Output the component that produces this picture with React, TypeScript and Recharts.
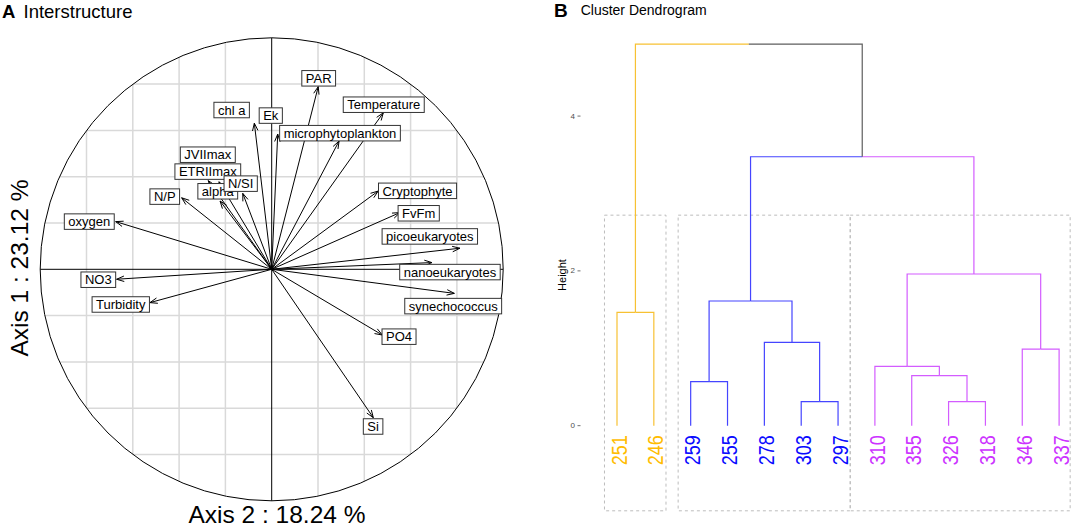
import React from 'react';
import { ComposedChart, XAxis, YAxis, ReferenceLine, ReferenceArea, Scatter, Line } from 'recharts';

const FONT = "'Liberation Sans', Arial, Helvetica, sans-serif";

// ---------- Panel A : correlation circle ----------
const varNames = ['PAR', 'Temperature', 'microphytoplankton', 'Ek', 'chl a', 'JVIImax', 'ETRIImax', 'alpha', 'N/SI', 'N/P', 'oxygen', 'NO3', 'Turbidity', 'Cryptophyte', 'FvFm', 'picoeukaryotes', 'nanoeukaryotes', 'synechococcus', 'PO4', 'Si'];
const arrowU = [0.201, 0.482, 0.291, 0.026, -0.075, -0.274, -0.228, -0.223, -0.125, -0.389, -0.674, -0.670, -0.526, 0.460, 0.554, 0.813, 0.692, 0.789, 0.478, 0.439];
const arrowV = [0.789, 0.676, 0.554, 0.584, 0.631, 0.383, 0.378, 0.295, 0.328, 0.309, 0.206, -0.043, -0.144, 0.338, 0.245, 0.091, 0.029, -0.104, -0.284, -0.641];
const labelU = [0.203, 0.484, 0.295, -0.004, -0.173, -0.276, -0.276, -0.233, -0.134, -0.462, -0.788, -0.749, -0.652, 0.630, 0.635, 0.683, 0.770, 0.784, 0.550, 0.438];
const labelV = [0.825, 0.711, 0.588, 0.664, 0.688, 0.495, 0.422, 0.337, 0.370, 0.314, 0.206, -0.045, -0.152, 0.339, 0.242, 0.142, -0.012, -0.159, -0.291, -0.679];
const gridTicks = [-0.8, -0.6, -0.4, -0.2, 0.2, 0.4, 0.6, 0.8];
const axis1Title = 'Axis 1 : 23.12 %';
const axis2Title = 'Axis 2 : 18.24 %';

// ---------- Panel B : dendrogram ----------
const leafLabels = ['251', '246', '259', '255', '278', '303', '297', '310', '355', '326', '318', '346', '337'];
const leafGroup = [0, 0, 1, 1, 1, 1, 1, 2, 2, 2, 2, 2, 2];
const mergeLeft = [-6, -10, -3, -9, -8, -12, -5, -1, 3, 5, 9, 8];
const mergeRight = [-7, -11, -4, 2, 4, -13, 1, -2, 7, 6, 10, 11];
const mergeHeight = [0.31, 0.31, 0.568, 0.646, 0.767, 0.99, 1.077, 1.465, 1.611, 1.96, 3.475, 4.93];
const boxLeft = [0.66, 2.66, 7.33];
const boxRight = [2.33, 7.33, 13.3];
const boxBottom = -1.1;
const boxTop = 2.72;
const heightTicks = [0, 2, 4];

const lineColors = ['#F7C133', '#4545FF', '#D35CFF'];
const labelColors = ['#FFBC00', '#0A0AFF', '#CC33FF'];
const mixedColor = '#5E5E5E';

let _ctx: CanvasRenderingContext2D | null = null;
function textWidth(s: string, size: number): number {
  if (typeof document !== 'undefined') {
    if (!_ctx) _ctx = document.createElement('canvas').getContext('2d');
    if (_ctx) {
      _ctx.font = `${size}px "Liberation Sans", Arial, sans-serif`;
      return _ctx.measureText(s).width;
    }
  }
  return s.length * size * 0.55;
}

const labelData = varNames.map((n, i) => ({ x: labelU[i], y: labelV[i], name: n }));

const LabelBox = (p: any) => {
  const { cx, cy, payload } = p;
  if (cx == null || cy == null) return <g />;
  const w = textWidth(payload.name, 13) + 8;
  const h = 15.5;
  return (
    <g>
      <rect x={cx - w / 2} y={cy - h / 2} width={w} height={h} fill="#fff" stroke="#333" strokeWidth={1} />
      <text x={cx} y={cy + 4.7} textAnchor="middle" fontSize={13} fontFamily={FONT} fill="#000">{payload.name}</text>
    </g>
  );
};

const ArrowShape = (p: any) => {
  const { x1, y1, x2, y2 } = p;
  const ang = Math.atan2(y2 - y1, x2 - x1);
  const L = 8;
  const A = (20 * Math.PI) / 180;
  const ax = x2 - L * Math.cos(ang - A);
  const ay = y2 - L * Math.sin(ang - A);
  const bx = x2 - L * Math.cos(ang + A);
  const by = y2 - L * Math.sin(ang + A);
  return (
    <g>
      <line x1={x1} y1={y1} x2={x2} y2={y2} stroke="#000" strokeWidth={1} />
      <path d={`M${ax},${ay}L${x2},${y2}L${bx},${by}`} fill="none" stroke="#000" strokeWidth={1} />
    </g>
  );
};

const AxisWithCircle = (p: any) => {
  const { x1, y1, x2, y2 } = p;
  const r = Math.abs(x2 - x1) / 2;
  return (
    <g>
      <circle cx={(x1 + x2) / 2} cy={(y1 + y2) / 2} r={r} fill="none" stroke="#000" strokeWidth={1} />
      <line x1={x1} y1={y1} x2={x2} y2={y2} stroke="#000" strokeWidth={1} />
    </g>
  );
};

// dendrogram layout from merges
type NodeInfo = { x: number; h: number; g: number };
function nodeInfo(): { leaves: NodeInfo[]; merges: NodeInfo[] } {
  const leaves = leafLabels.map((_, i) => ({ x: i + 1, h: 0, g: leafGroup[i] }));
  const merges: NodeInfo[] = [];
  const get = (c: number) => (c < 0 ? leaves[-c - 1] : merges[c - 1]);
  for (let k = 0; k < mergeHeight.length; k++) {
    const l = get(mergeLeft[k]);
    const r = get(mergeRight[k]);
    merges.push({ x: (l.x + r.x) / 2, h: mergeHeight[k], g: l.g === r.g ? l.g : -1 });
  }
  return { leaves, merges };
}
const { leaves: leafNodes, merges: mergeNodes } = nodeInfo();
const links: { pts: { x: number; y: number }[]; color: string }[] = [];
mergeNodes.forEach((m, k) => {
  [mergeLeft[k], mergeRight[k]].forEach((c) => {
    const n = c < 0 ? leafNodes[-c - 1] : mergeNodes[c - 1];
    links.push({
      pts: [{ x: n.x, y: n.h }, { x: n.x, y: m.h }, { x: m.x, y: m.h }],
      color: n.g >= 0 ? lineColors[n.g] : mixedColor,
    });
  });
});
const leafData = leafLabels.map((l, i) => ({ x: i + 1, y: 0, label: l, g: leafGroup[i] }));

const LeafLabel = (p: any) => {
  const { cx, cy, payload } = p;
  if (cx == null || cy == null) return <g />;
  const tx = cx + 2;
  const ty = cy + 9.5;
  return (
    <text
      transform={`translate(${tx},${ty}) rotate(-90) scale(0.82,1)`}
      textAnchor="end"
      dominantBaseline="central"
      fontSize={22}
      fontFamily={FONT}
      fill={labelColors[payload.g]}
    >
      {payload.label}
    </text>
  );
};

const HeightTick = (p: any) => {
  const { y, payload } = p;
  return (
    <g>
      <text x={32.7} y={y} textAnchor="middle" dominantBaseline="central" fontSize={8} fontFamily={FONT} fill="#4D4D4D">{payload.value}</text>
      <line x1={37.5} x2={40.5} y1={y} y2={y} stroke="#4D4D4D" strokeWidth={0.8} />
    </g>
  );
};

export default function App() {
  return (
    <div style={{ position: 'absolute', left: 0, top: 0, width: 1072, height: 527, overflow: 'hidden', background: '#fff', fontFamily: FONT }}>
      <div style={{ position: 'absolute', left: 0, top: 0 }}>
        <ComposedChart width={540} height={527} margin={{ top: 37.8, left: 40.2, right: 36.8, bottom: 26.2 }}>
          <XAxis type="number" dataKey="x" domain={[-1, 1]} hide />
          <YAxis type="number" dataKey="y" domain={[-1, 1]} hide />
          {gridTicks.map((t) => (
            <ReferenceLine key={'gv' + t} ifOverflow="visible" stroke="#D9D9D9" strokeWidth={1.5}
              segment={[{ x: t, y: -Math.sqrt(1 - t * t) }, { x: t, y: Math.sqrt(1 - t * t) }]} />
          ))}
          {gridTicks.map((t) => (
            <ReferenceLine key={'gh' + t} ifOverflow="visible" stroke="#D9D9D9" strokeWidth={1.5}
              segment={[{ x: -Math.sqrt(1 - t * t), y: t }, { x: Math.sqrt(1 - t * t), y: t }]} />
          ))}
          <ReferenceLine ifOverflow="visible" segment={[{ x: -1, y: 0 }, { x: 1, y: 0 }]} shape={AxisWithCircle} />
          <ReferenceLine ifOverflow="visible" stroke="#000" strokeWidth={1} segment={[{ x: 0, y: -1 }, { x: 0, y: 1 }]} />
          {varNames.map((n, i) => (
            <ReferenceLine key={'a' + n} ifOverflow="visible" segment={[{ x: 0, y: 0 }, { x: arrowU[i], y: arrowV[i] }]} shape={ArrowShape} />
          ))}
          <Scatter data={labelData} shape={LabelBox} isAnimationActive={false} />
        </ComposedChart>
      </div>
      <div style={{ position: 'absolute', left: 540, top: 0 }}>
        <ComposedChart width={532} height={527} margin={{ top: 38.7, right: 0, bottom: 16.2, left: 0 }}>
          <XAxis type="number" dataKey="x" domain={[0.5, 13.35]} hide />
          <YAxis type="number" dataKey="y" domain={[-1.1, 5]} ticks={heightTicks} interval={0} width={58.575}
            axisLine={false} tickLine={false} tick={HeightTick} />
          {boxLeft.map((b, i) => (
            <ReferenceArea key={'box' + i} ifOverflow="visible" x1={b} x2={boxRight[i]} y1={boxBottom} y2={boxTop}
              fill="none" fillOpacity={0} stroke="#BDBDBD" strokeWidth={1} strokeDasharray="3 3" />
          ))}
          {links.map((l, i) => (
            <Line key={'l' + i} data={l.pts} dataKey="y" type="linear" stroke={l.color} strokeWidth={1.2}
              dot={false} activeDot={false} isAnimationActive={false} />
          ))}
          <Scatter data={leafData} shape={LeafLabel} isAnimationActive={false} />
        </ComposedChart>
      </div>
      <svg width={1072} height={527} style={{ position: 'absolute', left: 0, top: 0, pointerEvents: 'none' }}>
        <text x={2} y={18} fontSize={18.5} fontWeight="bold" fontFamily={FONT} fill="#000">A</text>
        <text x={23.5} y={18} fontSize={18.5} fontFamily={FONT} fill="#000">Interstructure</text>
        <text x={277} y={523} textAnchor="middle" fontSize={24.5} fontFamily={FONT} fill="#000">{axis2Title}</text>
        <text transform="translate(28,268) rotate(-90)" textAnchor="middle" fontSize={24.5} fontFamily={FONT} fill="#000">{axis1Title}</text>
        <text x={554} y={17} fontSize={19} fontWeight="bold" fontFamily={FONT} fill="#000">B</text>
        <text x={580.7} y={14.5} fontSize={14} fontFamily={FONT} fill="#000">Cluster Dendrogram</text>
        <text transform="translate(566,275) rotate(-90)" textAnchor="middle" fontSize={11} fontFamily={FONT} fill="#000">Height</text>
      </svg>
    </div>
  );
}
